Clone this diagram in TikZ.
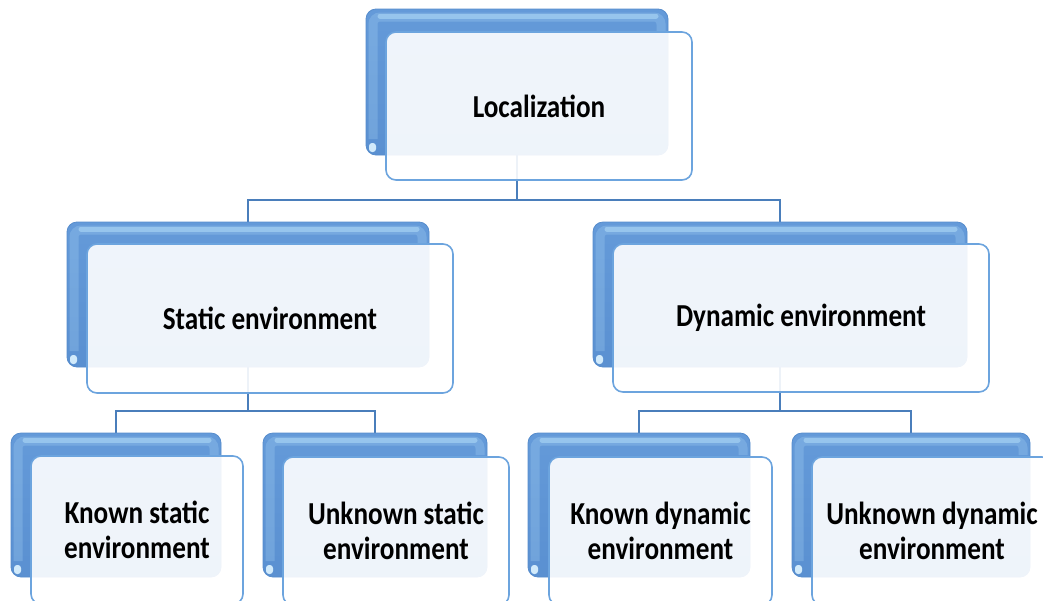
\documentclass[tikz,border=0pt]{standalone}
\usepackage{fontspec}
\newfontfamily\boxfont[FakeStretch=0.85]{Carlito}
\usetikzlibrary{backgrounds}

\definecolor{glossmain}{RGB}{100,154,217}
\definecolor{glossdeep}{RGB}{90,144,209}
\definecolor{glosshi}{RGB}{178,220,248}
\definecolor{glossedge}{RGB}{86,140,204}
\definecolor{cardline}{RGB}{108,164,222}
\definecolor{wirecol}{RGB}{74,126,187}

\tikzset{
  backcard/.style={shape=rectangle, rounded corners=10pt, top color=glossmain,
    bottom color=glossdeep, draw=glossedge, line width=0.8pt, inner sep=0pt,
    outer sep=0pt, anchor=north west},
  frontcard/.style={shape=rectangle, rounded corners=10pt, fill=white, fill opacity=0.9,
    text opacity=1, draw=cardline, line width=1.6pt, inner sep=0pt, outer sep=0pt,
    anchor=north west, align=center, text=black,
    font=\boxfont\bfseries\fontsize{32}{35}\selectfont},
  wire/.style={draw=wirecol, line width=2pt},
  bevelwide/.style={draw=glosshi, line width=9pt, opacity=0.25, rounded corners=7pt},
  beveltop/.style={draw=glosshi, line width=5pt, opacity=0.55, line cap=round},
  cornerspot/.style={fill=glosshi!60!white, rounded corners=3pt},
}

\begin{document}
\begin{tikzpicture}[x=1pt, y=-1pt]
\useasboundingbox (0,0) rectangle (1043,600);
\clip (0,0) rectangle (1043,600);

% rear cards
\node[backcard, minimum width=302pt, minimum height=146pt] (locB) at (366,9) {};
\node[backcard, minimum width=362pt, minimum height=145pt] (statB) at (67,222) {};
\node[backcard, minimum width=374pt, minimum height=145pt] (dynB) at (593,222) {};
\node[backcard, minimum width=210pt, minimum height=144pt] (ksB) at (11,433) {};
\node[backcard, minimum width=224pt, minimum height=144pt] (usB) at (263,433) {};
\node[backcard, minimum width=222pt, minimum height=144pt] (kdB) at (528,433) {};
\node[backcard, minimum width=238pt, minimum height=144pt] (udB) at (792,433) {};

% soft bevel highlight along the top and left edges, and a glint in the lower left corner
\foreach \c in {locB,statB,dynB,ksB,usB,kdB,udB} {
  \draw[bevelwide] ([shift={(7pt,16pt)}]\c.south west) |- ([shift={(-7pt,-8pt)}]\c.north east)
    -- ([shift={(-7pt,-22pt)}]\c.north east);
  \draw[beveltop] ([shift={(14pt,-7pt)}]\c.north west) -- ([shift={(-12pt,-7pt)}]\c.north east);
  \fill[cornerspot] ([shift={(3pt,3pt)}]\c.south west) rectangle ([shift={(10pt,12pt)}]\c.south west);
}

% front cards with the labels
\node[frontcard, minimum width=306pt, minimum height=148pt] (loc) at (386,32) {Localization};
\node[frontcard, minimum width=366pt, minimum height=149pt] (stat) at (87,244) {Static environment};
\node[frontcard, minimum width=376pt, minimum height=148pt] (dyn) at (613,244) {Dynamic environment};
\node[frontcard, minimum width=212pt, minimum height=148pt] (ks) at (31,456) {Known static\\environment};
\node[frontcard, minimum width=226pt, minimum height=148pt] (us) at (283,457) {Unknown static\\environment};
\node[frontcard, minimum width=223pt, minimum height=148pt] (kd) at (549,457) {Known dynamic\\environment};
\node[frontcard, minimum width=240pt, minimum height=148pt] (ud) at (812,457) {Unknown dynamic\\environment};

% bus levels of the tree
\coordinate (bus1) at (517,200);
\coordinate (bus2) at (249,411);
\coordinate (bus3) at (780,411);

\begin{scope}[on background layer]
  \draw[wire] (locB.center) -- (locB.center |- bus1);
  \draw[wire] (statB.north) |- (locB.center |- bus1) -| (dynB.north);
  \draw[wire] (statB.center) -- (statB.center |- bus2);
  \draw[wire] (ksB.north) |- (statB.center |- bus2) -| (usB.north);
  \draw[wire] (dynB.center) -- (dynB.center |- bus3);
  \draw[wire] (kdB.north) |- (dynB.center |- bus3) -| (udB.north);
\end{scope}
\end{tikzpicture}
\end{document}
